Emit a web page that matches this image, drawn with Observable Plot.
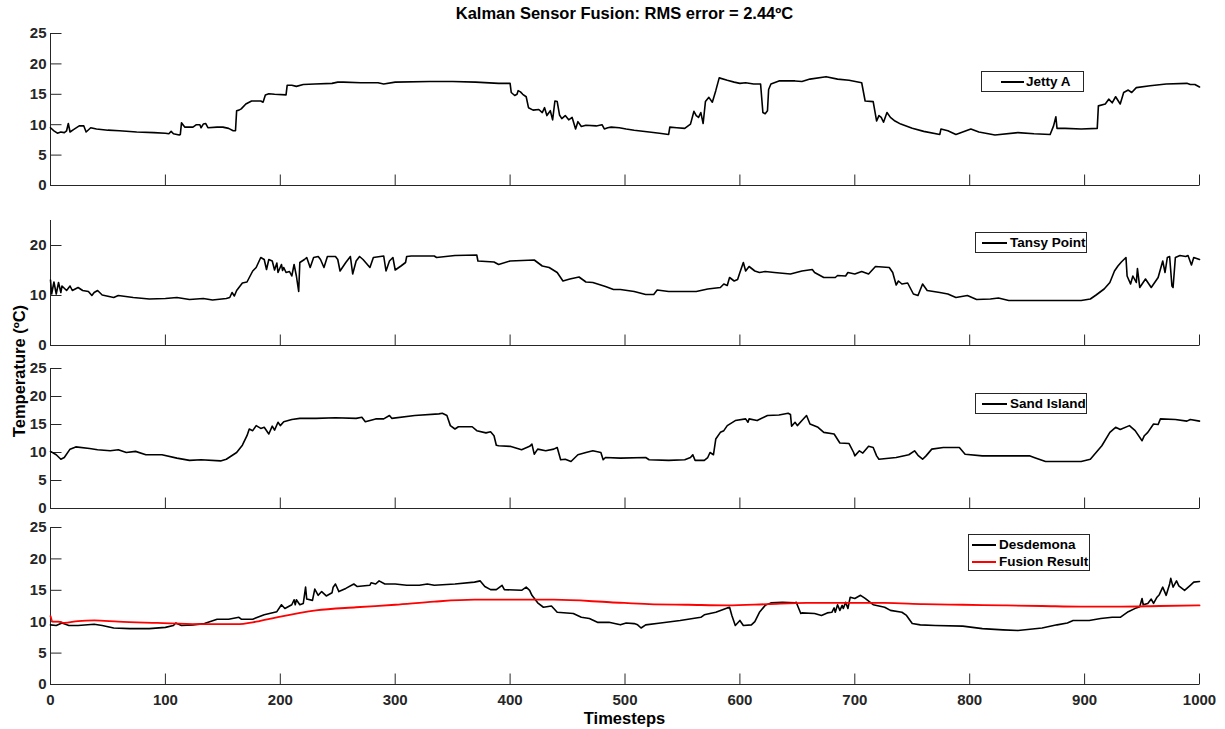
<!DOCTYPE html>
<html><head><meta charset="utf-8">
<script src="https://cdn.jsdelivr.net/npm/d3@7"></script>
<script src="https://cdn.jsdelivr.net/npm/@observablehq/plot@0.6"></script>
<style>
body{margin:0;background:#fff;}
#chart{position:relative;width:1225px;height:729px;overflow:hidden;font-family:"Liberation Sans",Arial,sans-serif;color:#262626;}
.panel{position:absolute;left:0;}
.lbl{position:absolute;font-weight:bold;white-space:nowrap;line-height:1;color:#000;}
.legend{position:absolute;border:1px solid #262626;background:#fff;box-sizing:border-box;}
.sample{position:absolute;height:2px;}
.ltext{position:absolute;font-weight:bold;font-size:13.5px;line-height:1;white-space:nowrap;color:#000;transform:translateY(-50%);}
</style></head><body><div id="chart"></div><script>
// ---------- data (timestep, temperature ºC) ----------
const jettyA = [[0,9.5],[3,9.0],[6,8.6],[9,8.8],[12,8.7],[14,9.0],[15.5,10.2],[17,8.8],[20,9.2],[25,9.8],[29,9.8],[31,8.8],[35,9.5],[40,9.3],[50,9.1],[60,9.0],[75,8.8],[90,8.7],[100,8.6],[103,8.5],[105,8.9],[107,8.5],[112,8.3],[113,8.4],[114,10.3],[117,9.6],[124,9.6],[127,10.0],[130,10.0],[131,9.5],[133,10.1],[135,10.2],[137,9.5],[145,9.6],[150,9.6],[155,9.4],[159,9.0],[161,9.0],[162,12.3],[164,12.4],[166,12.6],[170,13.4],[175,13.9],[183,13.9],[185,13.7],[187,14.9],[190,15.1],[195,15.0],[205,14.9],[206,16.5],[210,16.5],[214,16.3],[220,16.6],[230,16.7],[245,16.8],[250,17.0],[255,17.0],[270,16.9],[285,16.9],[290,16.7],[300,17.0],[330,17.1],[350,17.1],[370,17.0],[390,16.8],[400,16.8],[401,15.3],[404,14.8],[406,15.0],[407,15.6],[409,15.4],[411,15.0],[414,14.6],[416,12.8],[420,12.4],[425,12.5],[428,12.0],[430,12.8],[432,11.5],[435,12.3],[437,10.8],[439,13.9],[441,13.8],[443,11.6],[445,11.0],[448,11.5],[451,10.8],[454,11.2],[457,9.3],[459,10.5],[462,9.7],[466,9.9],[475,9.8],[480,10.0],[482,9.3],[485,9.5],[488,9.6],[495,9.5],[501,9.3],[508,9.1],[521,8.8],[530,8.6],[538,8.4],[539,9.6],[545,9.5],[552,9.4],[557,10.1],[560,12.2],[562,11.5],[564,11.2],[566,12.0],[568,10.2],[570,13.8],[573,14.5],[576,13.7],[579,15.6],[582,17.7],[589,17.3],[595,17.0],[600,16.8],[605,16.9],[612,16.7],[618,16.7],[620,12.0],[622,11.8],[624,12.3],[625,15.8],[627,16.7],[634,17.2],[648,17.2],[654,17.1],[661,17.5],[675,17.9],[685,17.5],[695,17.3],[706,16.9],[709,13.9],[716,13.8],[719,10.6],[721,11.5],[723,11.2],[725,10.4],[728,12.0],[731,11.2],[735,10.6],[740,10.1],[750,9.4],[760,8.9],[774,8.4],[775,9.3],[781,9.0],[788,8.4],[801,9.3],[808,8.8],[822,8.3],[842,8.7],[856,8.5],[870,8.4],[873,9.8],[875,11.3],[876,9.4],[883,9.4],[897,9.3],[911,9.4],[912,13.1],[918,13.4],[921,14.2],[924,13.6],[927,14.6],[931,13.4],[934,15.3],[938,15.7],[941,15.3],[945,16.1],[957,16.4],[971,16.7],[989,16.8],[992,16.6],[996,16.6],[1000,16.2]];

const tansyPoint = [[0,13.1],[1,10.3],[3,12.7],[5,10.3],[7,12.6],[9,10.6],[10,11.9],[14,11.0],[17,11.9],[19,11.0],[24,11.6],[28,11.0],[33,10.8],[36,10.0],[38,10.6],[41,11.0],[45,10.1],[55,9.6],[59,10.0],[72,9.6],[86,9.3],[100,9.4],[110,9.6],[121,9.2],[133,9.4],[141,9.1],[153,9.4],[156,9.6],[158,10.6],[160,9.9],[162,11.0],[167,12.5],[171,12.7],[176,14.9],[179,15.6],[183,17.6],[186,17.2],[188,15.2],[190,17.2],[193,16.9],[195,15.1],[197,16.5],[198,14.6],[201,16.2],[202,15.0],[203,15.6],[205,14.6],[208,14.8],[210,13.9],[212,16.2],[214,13.9],[216,10.8],[217,16.6],[221,17.2],[223,17.6],[226,15.6],[229,17.6],[233,17.8],[235,17.2],[238,15.6],[241,17.8],[248,17.8],[250,17.2],[252,14.9],[257,16.6],[261,17.8],[263,14.3],[266,16.9],[269,17.8],[272,17.2],[278,15.6],[281,17.6],[290,17.9],[292,14.9],[295,16.9],[298,17.6],[300,15.1],[305,15.9],[309,16.6],[310,17.8],[314,17.9],[334,17.9],[336,17.6],[352,18.0],[371,18.1],[372,16.9],[386,16.7],[390,16.2],[400,16.9],[421,17.1],[428,15.9],[434,15.6],[441,14.6],[446,12.9],[452,13.3],[460,13.7],[466,12.7],[472,12.6],[483,11.8],[490,11.2],[496,11.2],[508,10.8],[518,10.2],[525,10.2],[528,11.1],[538,10.8],[562,10.8],[572,11.3],[583,11.6],[586,12.3],[589,12.0],[591,13.6],[595,12.9],[598,13.2],[600,14.6],[603,16.6],[605,14.9],[608,15.8],[613,14.9],[617,14.6],[622,14.8],[630,14.6],[644,14.3],[654,14.9],[663,15.2],[665,14.6],[673,13.6],[683,13.6],[685,14.0],[692,13.9],[694,14.6],[700,14.3],[706,14.8],[712,14.3],[718,15.8],[730,15.6],[733,14.6],[736,12.1],[738,12.9],[741,12.3],[746,12.5],[751,10.3],[755,10.0],[759,12.3],[763,11.0],[774,10.6],[781,10.3],[788,9.6],[798,10.0],[806,9.2],[818,9.3],[825,9.5],[834,9.0],[863,9.0],[897,9.0],[905,9.3],[910,10.1],[917,11.3],[922,12.6],[926,14.9],[929,15.9],[932,16.7],[936,17.6],[937,13.9],[940,12.3],[942,13.9],[945,12.6],[946,15.4],[948,11.6],[953,13.3],[958,11.6],[964,13.6],[968,16.9],[970,14.6],[972,17.6],[974,17.8],[976,11.9],[977,11.6],[979,17.6],[983,18.0],[988,17.8],[990,18.0],[993,16.1],[995,17.6],[1000,17.2]];

const sandIsland = [[0,10.2],[5,9.6],[9,8.8],[12,9.1],[17,10.6],[22,11.0],[34,10.7],[41,10.5],[52,10.3],[59,10.5],[66,10.0],[74,10.2],[83,9.6],[97,9.6],[110,9.0],[121,8.6],[131,8.7],[148,8.5],[153,8.8],[162,10.0],[167,11.3],[171,13.0],[173,14.2],[176,13.9],[179,14.8],[183,14.3],[186,14.5],[190,13.3],[193,14.7],[195,14.0],[198,15.4],[200,14.8],[203,15.5],[210,15.9],[217,16.1],[231,16.1],[248,16.2],[266,16.1],[271,16.3],[274,15.5],[283,16.0],[290,16.0],[295,16.6],[297,16.1],[317,16.6],[338,16.9],[341,17.0],[345,16.6],[348,14.8],[352,14.2],[355,14.6],[367,14.6],[371,13.9],[379,13.5],[383,13.7],[386,13.0],[388,11.3],[390,11.2],[400,11.1],[410,10.5],[417,11.1],[419,11.5],[421,9.7],[424,10.6],[431,10.3],[438,10.6],[441,10.9],[444,8.7],[448,8.8],[453,8.4],[459,9.6],[466,10.0],[472,10.3],[479,10.0],[481,8.7],[483,9.1],[496,9.0],[518,9.1],[521,8.7],[538,8.6],[552,8.7],[557,9.1],[559,9.6],[561,8.6],[569,8.6],[572,9.1],[574,10.0],[577,9.6],[579,12.4],[583,13.6],[586,13.9],[589,14.8],[596,15.7],[605,16.0],[607,15.4],[608,16.0],[615,15.7],[624,16.6],[634,16.7],[642,17.0],[644,16.8],[645,14.7],[648,15.4],[650,14.8],[654,15.7],[658,16.6],[661,15.1],[668,14.5],[673,13.6],[682,13.3],[687,11.7],[695,11.6],[699,10.0],[700,9.4],[704,10.3],[707,9.9],[712,11.1],[716,10.9],[719,9.4],[721,8.8],[736,9.1],[747,9.6],[752,10.3],[755,9.5],[759,8.8],[762,9.4],[767,10.6],[777,10.9],[791,10.9],[796,9.7],[811,9.4],[829,9.4],[852,9.4],[856,9.1],[866,8.4],[897,8.4],[905,8.8],[910,10.0],[915,11.2],[922,13.6],[927,14.5],[931,14.1],[939,14.8],[944,13.9],[950,12.1],[952,13.0],[955,13.6],[960,15.1],[964,15.0],[966,16.0],[979,15.9],[989,15.6],[992,15.9],[1000,15.6]];

const desdemona = [[0,9.5],[5,9.4],[10,9.8],[16,9.4],[24,9.4],[38,9.6],[45,9.4],[55,9.0],[69,8.9],[86,8.9],[100,9.1],[107,9.4],[109,9.8],[114,9.4],[124,9.5],[134,9.7],[145,10.4],[155,10.4],[164,10.7],[166,10.4],[176,10.4],[186,11.1],[197,11.6],[201,12.7],[204,12.1],[210,12.7],[212,13.5],[213,12.7],[214,13.5],[217,12.7],[220,12.9],[222,15.5],[223,13.6],[228,13.4],[230,15.2],[233,14.2],[236,14.8],[240,14.1],[245,14.6],[246,15.5],[248,16.0],[251,14.8],[257,15.3],[264,16.0],[267,15.6],[278,15.8],[279,16.2],[283,16.0],[286,16.5],[291,16.0],[300,16.0],[310,15.8],[321,15.8],[328,16.0],[334,15.8],[352,16.0],[369,16.3],[374,16.5],[378,15.6],[383,15.1],[388,15.1],[393,15.8],[395,15.1],[410,15.0],[414,15.5],[417,15.0],[419,14.2],[424,13.0],[429,12.3],[436,12.5],[441,11.5],[455,11.3],[462,10.7],[469,10.5],[476,9.9],[486,9.9],[496,9.5],[501,9.8],[508,9.7],[511,9.5],[514,9.0],[518,9.5],[531,9.8],[548,10.2],[566,10.7],[569,11.1],[579,11.5],[589,12.2],[591,12.3],[593,11.0],[596,9.4],[600,10.2],[603,9.4],[610,9.5],[613,10.0],[617,11.5],[622,12.6],[627,13.0],[637,13.1],[648,13.0],[649,13.1],[653,11.3],[654,11.4],[665,11.3],[671,11.0],[676,11.4],[680,11.5],[682,12.2],[683,11.5],[685,12.7],[687,11.8],[689,12.6],[690,12.1],[692,13.1],[694,12.1],[696,13.9],[700,13.7],[705,14.2],[709,13.7],[716,12.7],[726,12.3],[731,11.8],[741,11.5],[745,11.0],[750,9.7],[757,9.5],[770,9.4],[794,9.3],[811,8.9],[829,8.7],[842,8.6],[863,9.0],[876,9.5],[885,9.8],[890,10.2],[904,10.2],[914,10.5],[924,10.7],[931,10.7],[938,11.6],[945,12.2],[948,12.4],[950,13.7],[951,12.7],[955,12.9],[958,13.6],[960,12.9],[963,13.9],[965,14.3],[968,15.5],[971,14.2],[974,16.0],[975,16.9],[977,15.5],[980,16.5],[982,15.7],[987,15.0],[992,15.8],[995,16.3],[1000,16.4]];

const fusionResult = [[0,10.9],[2,10.0],[7,10.0],[12,9.8],[24,10.1],[38,10.2],[59,10.0],[93,9.8],[128,9.6],[162,9.6],[179,10.0],[197,10.7],[231,11.8],[266,12.3],[300,12.7],[334,13.2],[369,13.5],[403,13.5],[438,13.5],[487,13.1],[521,12.8],[555,12.7],[589,12.6],[624,12.8],[658,13.0],[692,13.0],[726,13.0],[760,12.8],[794,12.7],[829,12.6],[863,12.5],[897,12.4],[931,12.4],[965,12.5],[1000,12.6]];

const xTicks = [0,100,200,300,400,500,600,700,800,900,1000];
const yTicksFull = [0,5,10,15,20,25];
const yTicksSparse = [0,10,20];

const titleText = "Kalman Sensor Fusion: RMS error = 2.44ºC";
const xLabelText = "Timesteps";
const yLabelText = "Temperature (ºC)";

// ---------- layout ----------
const W = 1225, ML = 50, MR = 26;
const axisColor = "#262626";
const chart = document.getElementById("chart");
const tickShape = {draw(context, l) { context.moveTo(0, 0); context.lineTo(0, -l); }};

function panel({series, top, bottom, yTicks, showX}) {
  const mt = 10, mb = showX ? 40 : 10;
  const marks = [
    Plot.ruleY([0], {stroke: axisColor, strokeWidth: 1}),
    Plot.ruleX([0], {stroke: axisColor, strokeWidth: 1}),
    Plot.vector(xTicks, {x: d => d, y: 0, length: 11, rotate: 0, anchor: "start", shape: tickShape, stroke: axisColor, strokeWidth: 1, strokeLinecap: "butt"}),
    Plot.vector(yTicks, {x: 0, y: d => d, length: 11, rotate: 90, anchor: "start", shape: tickShape, stroke: axisColor, strokeWidth: 1, strokeLinecap: "butt"}),
    Plot.axisY({ticks: yTicks, tickSize: 0, tickPadding: 4, label: null, fill: axisColor, tickFormat: d => String(d)}),
    showX ? Plot.axisX({ticks: xTicks, tickSize: 0, tickPadding: 10, label: null, fill: axisColor, tickFormat: d => String(d)}) : Plot.axisX({ticks: [], label: null})
  ];
  for (const s of series) {
    marks.push(Plot.line(s.data, {x: d => d[0], y: d => d[1], stroke: s.color, strokeWidth: s.width, curve: s.curve || "linear"}));
  }
  const svg = Plot.plot({
    width: W, height: bottom - top + mt + mb,
    marginLeft: ML, marginRight: MR, marginTop: mt, marginBottom: mb,
    x: {domain: [0, 1000]},
    y: {domain: [0, 25]},
    style: {fontFamily: '"Liberation Sans", Arial, sans-serif', fontSize: "15px", fontWeight: "bold", background: "transparent", overflow: "visible"},
    marks
  });
  svg.classList.add("panel");
  svg.style.top = (top - mt) + "px";
  chart.appendChild(svg);
}

panel({series: [{data: jettyA, color: "#000", width: 1.6}], top: 33, bottom: 185, yTicks: yTicksFull});
panel({series: [{data: tansyPoint, color: "#000", width: 1.6}], top: 220, bottom: 345, yTicks: yTicksSparse});
panel({series: [{data: sandIsland, color: "#000", width: 1.6}], top: 368, bottom: 508, yTicks: yTicksFull});
panel({series: [{data: desdemona, color: "#000", width: 1.6}, {data: fusionResult, color: "#ff0000", width: 1.8, curve: "monotone-x"}], top: 527, bottom: 684, yTicks: yTicksFull, showX: true});

// ---------- texts ----------
function label(text, x, y, size, rotate) {
  const d = document.createElement("div");
  d.className = "lbl";
  d.textContent = text;
  d.style.fontSize = size + "px";
  d.style.left = x + "px";
  d.style.top = y + "px";
  d.style.transform = "translate(-50%,-50%)" + (rotate ? " rotate(" + rotate + "deg)" : "");
  chart.appendChild(d);
}
label(titleText, 624.5, 13, 16.5);
label(xLabelText, 624.5, 718, 16.5);
label(yLabelText, 19, 371, 16.5, -90);

// ---------- legends ----------
function legend(left, top, width, height, lineLeft, lineWidth, textLeft, rows) {
  const box = document.createElement("div");
  box.className = "legend";
  Object.assign(box.style, {left: left + "px", top: top + "px", width: width + "px", height: height + "px"});
  for (const r of rows) {
    const s = document.createElement("div");
    s.className = "sample";
    Object.assign(s.style, {left: lineLeft + "px", width: lineWidth + "px", top: (r.y - 1) + "px", background: r.color});
    box.appendChild(s);
    const t = document.createElement("div");
    t.className = "ltext";
    t.textContent = r.label;
    Object.assign(t.style, {left: textLeft + "px", top: r.y + "px"});
    box.appendChild(t);
  }
  chart.appendChild(box);
}
legend(981, 71, 103, 21, 19, 23, 44, [{label: "Jetty A", color: "#000", y: 10}]);
legend(975, 232, 112, 21, 6, 25, 34, [{label: "Tansy Point", color: "#000", y: 10}]);
legend(975, 393, 112, 21, 6, 25, 34, [{label: "Sand Island", color: "#000", y: 10}]);
legend(968, 534, 122, 37, 3, 24, 30, [{label: "Desdemona", color: "#000", y: 10}, {label: "Fusion Result", color: "#ff0000", y: 27}]);
</script></body></html>
